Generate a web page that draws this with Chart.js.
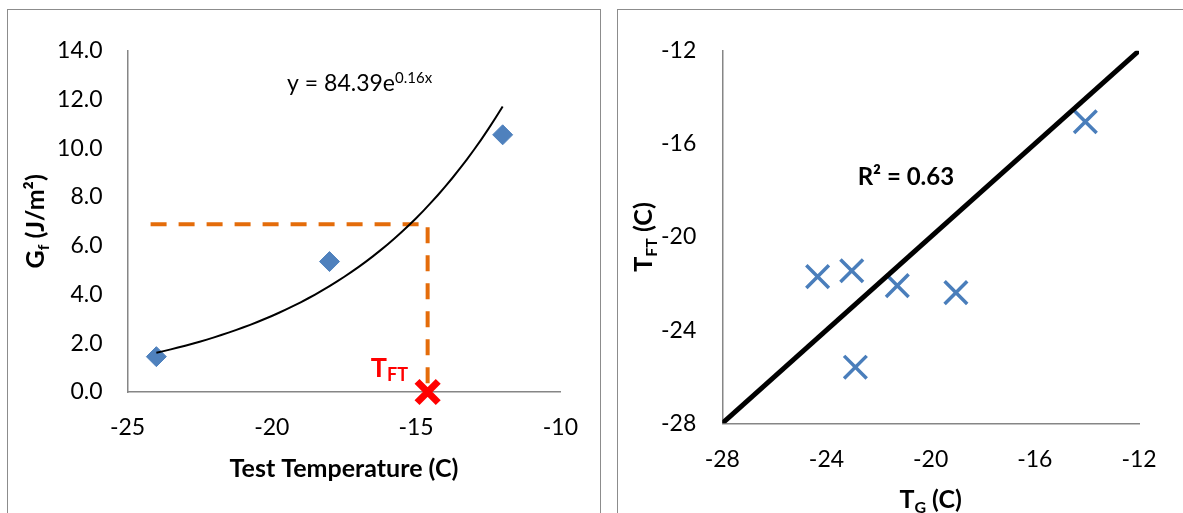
<!DOCTYPE html>
<html>
<head>
<meta charset="utf-8">
<script src="https://cdn.jsdelivr.net/npm/chart.js@4.4.0/dist/chart.umd.min.js"></script>
<style>
  html, body { margin: 0; padding: 0; background: #fff; overflow: hidden; width: 1183px; height: 513px; }
  .panel { position: absolute; top: 9px; height: 520px; border: 1px solid #8c8c8c; background: #fff; }
  #p1 { left: 7px; width: 592px; }
  #p2 { left: 617px; width: 600px; }
  canvas { position: absolute; left: 0; top: 0; }
</style>
</head>
<body>
<div class="panel" id="p1"><canvas id="gfChart" width="592" height="503"></canvas></div>
<div class="panel" id="p2"><canvas id="tftChart" width="566" height="503"></canvas></div>
<script>
// left chart: fracture energy vs test temperature
const testTemp = [-24, -18, -12];
const gfValues = [1.45, 5.35, 10.55];
const gfTicksX = [-25, -20, -15, -10];
const gfTicksY = [0, 2, 4, 6, 8, 10, 12, 14];
const guideX = [-24.2, -14.6, -14.6];
const guideY = [6.88, 6.88, 0];
const tftX = [-14.6];
const tftY = [0];

// right chart: T_FT vs T_G
const tG = [-24.34, -23.03, -21.28, -19.03, -22.89, -14.06];
const tFT = [-21.70, -21.45, -22.09, -22.39, -25.59, -15.05];
const lineEnds = [-28, -12];
const tTicks = [-28, -24, -20, -16, -12];

Chart.defaults.font.family = 'Lato';
Chart.defaults.color = '#000';

// exponential trendline, least squares on ln(y) like excel does
function expFit(xs, ys) {
  const n = xs.length;
  const ly = ys.map(Math.log);
  const mx = xs.reduce((a, b) => a + b, 0) / n;
  const my = ly.reduce((a, b) => a + b, 0) / n;
  let sxy = 0, sxx = 0;
  for (let i = 0; i < n; i++) { sxy += (xs[i] - mx) * (ly[i] - my); sxx += (xs[i] - mx) ** 2; }
  const b = sxy / sxx;
  return { a: Math.exp(my - b * mx), b: b };
}
const fit = expFit(testTemp, gfValues);
const trend = [];
for (let x = testTemp[0]; x <= testTemp[testTemp.length - 1] + 1e-9; x += 0.25) {
  trend.push({ x: x, y: fit.a * Math.exp(fit.b * x) });
}

function zip(xs, ys) { return xs.map((x, i) => ({ x: x, y: ys[i] })); }

function richText(ctx, parts, x, y, align) {
  let w = 0;
  parts.forEach(p => { ctx.font = p.font; p.w = ctx.measureText(p.text).width; w += p.w; });
  let cx = align === 'center' ? x - w / 2 : x;
  ctx.textAlign = 'left';
  ctx.textBaseline = 'alphabetic';
  parts.forEach(p => {
    ctx.font = p.font;
    ctx.fillStyle = p.color || '#000';
    ctx.fillText(p.text, cx, y + (p.dy || 0));
    cx += p.w;
  });
}

function axisOpts(min, max, step, pad, ticksArr, fmt) {
  return {
    type: 'linear', min: min, max: max,
    afterBuildTicks: s => { s.ticks = ticksArr.map(v => ({ value: v })); },
    ticks: { stepSize: step, padding: pad, color: '#000', font: { size: 23 }, callback: fmt || (v => v) },
    grid: { display: false, drawTicks: false },
    border: { display: true, color: '#868686', width: 1.5 }
  };
}

const gfLabels = {
  id: 'gfLabels',
  afterDraw(chart) {
    const { ctx, chartArea: ca, scales: { x, y } } = chart;
    ctx.save();
    richText(ctx, [
      { text: 'y = 84.39e', font: '23px Lato' },
      { text: '0.16x', font: '15px Lato', dy: -8 }
    ], x.getPixelForValue(-19.47), y.getPixelForValue(12.36), 'left');
    richText(ctx, [
      { text: 'T', font: 'bold 27px Lato', color: '#ff0000' },
      { text: 'FT', font: 'bold 18px Lato', color: '#ff0000', dy: 4 }
    ], x.getPixelForValue(-16.57), y.getPixelForValue(0.63), 'left');
    richText(ctx, [{ text: 'Test Temperature (C)', font: 'bold 25px Lato' }],
      (ca.left + ca.right) / 2, ca.bottom + 85, 'center');
    ctx.translate(ca.left - 84, (ca.top + ca.bottom) / 2);
    ctx.rotate(-Math.PI / 2);
    richText(ctx, [
      { text: 'G', font: 'bold 25px Lato' },
      { text: 'f', font: 'bold 16px Lato', dy: 5 },
      { text: ' (J/m\u00B2)', font: 'bold 25px Lato' }
    ], 0, 0, 'center');
    ctx.restore();
  }
};

const tftLabels = {
  id: 'tftLabels',
  afterDraw(chart) {
    const { ctx, chartArea: ca, scales: { x, y } } = chart;
    ctx.save();
    richText(ctx, [{ text: 'R\u00B2 = 0.63', font: 'bold 24px Lato' }],
      x.getPixelForValue(-20.95), y.getPixelForValue(-17.77), 'center');
    richText(ctx, [
      { text: 'T', font: 'bold 25px Lato' },
      { text: 'G', font: 'bold 16px Lato', dy: 5 },
      { text: ' (C)', font: 'bold 25px Lato' }
    ], (ca.left + ca.right) / 2, ca.bottom + 85, 'center');
    ctx.translate(ca.left - 70, (ca.top + ca.bottom) / 2);
    ctx.rotate(-Math.PI / 2);
    richText(ctx, [
      { text: 'T', font: 'bold 25px Lato' },
      { text: 'FT', font: 'bold 16px Lato', dy: 5 },
      { text: ' (C)', font: 'bold 25px Lato' }
    ], 0, 0, 'center');
    ctx.restore();
  }
};

const gfX = axisOpts(-25, -10, 5, 22, gfTicksX);
gfX.afterFit = s => { s.height = 60; };
const gfY = axisOpts(0, 14, 2, 25, gfTicksY, v => v.toFixed(1));
gfY.afterFit = s => { s.width = 119.5; };

new Chart(document.getElementById('gfChart').getContext('2d'), {
  type: 'scatter',
  data: {
    datasets: [
      { label: 'TFT', data: zip(tftX, tftY), pointStyle: 'crossRot', pointRadius: 15,
        borderColor: '#ff0000', borderWidth: 7, clip: false },
      { label: 'trend', data: trend, showLine: true, borderColor: '#000', borderWidth: 2,
        pointRadius: 0, tension: 0 },
      { label: 'Gf', data: zip(testTemp, gfValues), pointStyle: 'rectRot', pointRadius: 10,
        backgroundColor: '#4f81bd', borderColor: '#4f81bd', borderWidth: 1 },
      { label: 'guide', data: zip(guideX, guideY), showLine: true, borderColor: '#e46c0a',
        borderWidth: 4, borderDash: [16, 12], pointRadius: 0 }
    ]
  },
  options: {
    responsive: false,
    animation: false,
    layout: { padding: { left: 0, top: 40.7, right: 34, bottom: 61 } },
    scales: { x: gfX, y: gfY },
    plugins: { legend: { display: false }, tooltip: { enabled: false } }
  },
  plugins: [gfLabels]
});

const tX = axisOpts(-28, -12, 4, 22, tTicks);
tX.afterFit = s => { s.height = 50; };
const tY = axisOpts(-28, -12, 4, 26, tTicks);
tY.afterFit = s => { s.width = 104.3; };

new Chart(document.getElementById('tftChart').getContext('2d'), {
  type: 'scatter',
  data: {
    datasets: [
      { label: '1:1', data: zip(lineEnds, lineEnds), showLine: true, borderColor: '#000',
        borderWidth: 5, pointRadius: 0, clip: 0 },
      { label: 'TFT', data: zip(tG, tFT), pointStyle: 'crossRot', pointRadius: 16,
        borderColor: '#4a7ebb', borderWidth: 3.5 }
    ]
  },
  options: {
    responsive: false,
    animation: false,
    layout: { padding: { left: 0, top: 40.7, right: 45, bottom: 39.7 } },
    scales: { x: tX, y: tY },
    plugins: { legend: { display: false }, tooltip: { enabled: false } }
  },
  plugins: [tftLabels]
});
</script>
</body>
</html>
